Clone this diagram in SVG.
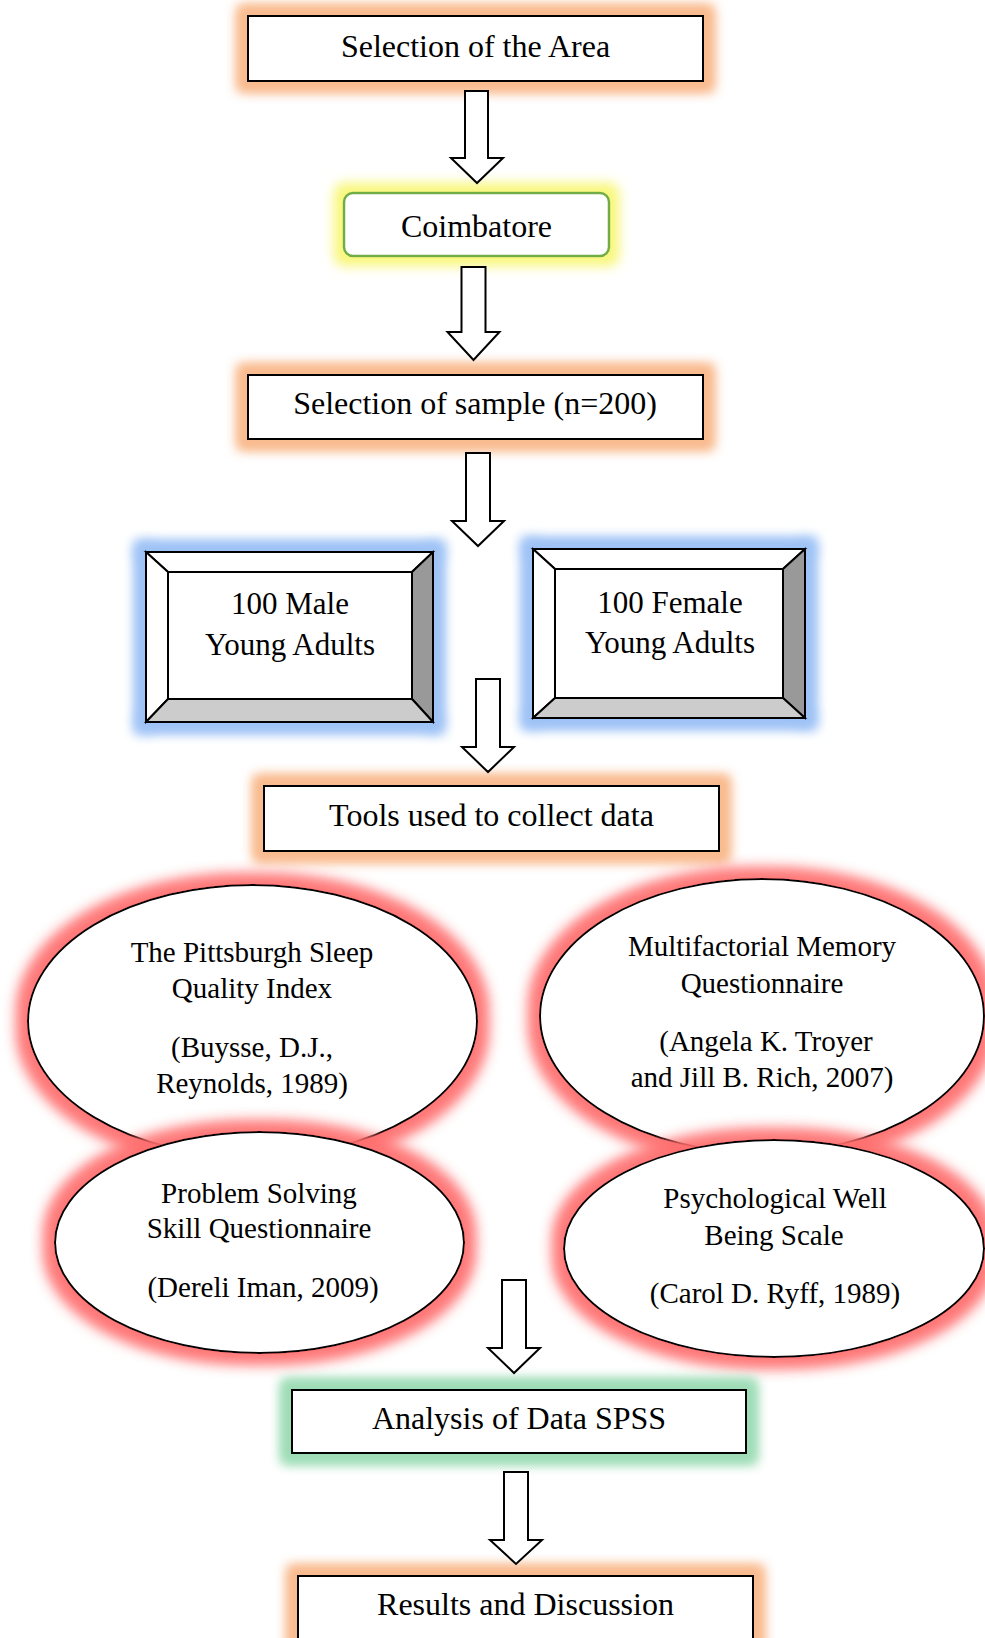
<svg xmlns="http://www.w3.org/2000/svg" width="985" height="1638" viewBox="0 0 985 1638">
<style>
text{font-family:"Liberation Serif","Times New Roman",serif;fill:#000;text-anchor:middle}
.t32{font-size:32px}
.t31{font-size:31px}
.t29{font-size:29px}
.box{fill:#fff;stroke:#000;stroke-width:2}
.ell{fill:#fff;stroke:#000;stroke-width:2}
.arrow{fill:#fff;stroke:#000;stroke-width:2;stroke-linejoin:miter}
.bev{stroke:#000;stroke-width:2;stroke-linejoin:miter}
</style>
<defs>
<filter id="gOrange" x="-20%" y="-80%" width="140%" height="260%">
<feMorphology in="SourceAlpha" operator="dilate" radius="9" result="d"/>
<feGaussianBlur in="d" stdDeviation="6" result="b"/>
<feFlood flood-color="#F9BB8F"/>
<feComposite in2="b" operator="in" result="g"/>
<feMerge><feMergeNode in="g"/><feMergeNode in="g"/><feMergeNode in="SourceGraphic"/></feMerge>
</filter>
<filter id="gYellow" x="-20%" y="-80%" width="140%" height="260%">
<feMorphology in="SourceAlpha" operator="dilate" radius="9" result="d"/>
<feGaussianBlur in="d" stdDeviation="6" result="b"/>
<feFlood flood-color="#F8F77A"/>
<feComposite in2="b" operator="in" result="g"/>
<feMerge><feMergeNode in="g"/><feMergeNode in="SourceGraphic"/></feMerge>
</filter>
<filter id="gBlue" x="-20%" y="-35%" width="140%" height="170%">
<feMorphology in="SourceAlpha" operator="dilate" radius="9" result="d"/>
<feGaussianBlur in="d" stdDeviation="6" result="b"/>
<feFlood flood-color="#9FC3F6"/>
<feComposite in2="b" operator="in" result="g"/>
<feMerge><feMergeNode in="g"/><feMergeNode in="g"/><feMergeNode in="SourceGraphic"/></feMerge>
</filter>
<filter id="gGreen" x="-20%" y="-80%" width="140%" height="260%">
<feMorphology in="SourceAlpha" operator="dilate" radius="9" result="d"/>
<feGaussianBlur in="d" stdDeviation="6" result="b"/>
<feFlood flood-color="#9EDDB6"/>
<feComposite in2="b" operator="in" result="g"/>
<feMerge><feMergeNode in="g"/><feMergeNode in="g"/><feMergeNode in="SourceGraphic"/></feMerge>
</filter>
<filter id="gRed" x="-20%" y="-30%" width="140%" height="160%">
<feMorphology in="SourceAlpha" operator="dilate" radius="9" result="d"/>
<feGaussianBlur in="d" stdDeviation="7" result="b"/>
<feFlood flood-color="#FF6E6E" flood-opacity="0.75"/>
<feComposite in2="b" operator="in" result="g"/>
<feMerge><feMergeNode in="g"/><feMergeNode in="g"/><feMergeNode in="SourceGraphic"/></feMerge>
</filter>
</defs>
<rect x="0" y="0" width="985" height="1638" fill="#fff"/>

<g id="n-area">
<rect class="box" x="248" y="16" width="455" height="65" filter="url(#gOrange)"/>
<text class="t32" x="475.5" y="57">Selection of the Area</text>
</g>

<g id="n-coimbatore">
<rect x="344" y="193" width="265" height="63" rx="9" ry="9" fill="#fff" stroke="#70AD47" stroke-width="2.5" filter="url(#gYellow)"/>
<text class="t32" x="476.5" y="237">Coimbatore</text>
</g>

<g id="n-sample">
<rect class="box" x="248" y="375" width="455" height="64" filter="url(#gOrange)"/>
<text class="t32" x="475" y="414">Selection of sample (n=200)</text>
</g>

<g id="n-male">
<g filter="url(#gBlue)">
<rect x="146" y="552" width="287" height="170" fill="#fff"/>
<polygon class="bev" fill="#fff" points="146,552 433,552 412,572 168,572"/>
<polygon class="bev" fill="#fff" points="146,552 168,572 168,699 146,722"/>
<polygon class="bev" fill="#999999" points="433,552 433,722 412,699 412,572"/>
<polygon class="bev" fill="#CCCCCC" points="146,722 168,699 412,699 433,722"/>
<rect x="168" y="572" width="244" height="127" fill="#fff" stroke="#000" stroke-width="2"/>
<rect x="146" y="552" width="287" height="170" fill="none" stroke="#000" stroke-width="2"/>
</g>
<text class="t31" x="290" y="614">100 Male</text>
<text class="t31" x="290" y="655">Young Adults</text>
</g>

<g id="n-female">
<g filter="url(#gBlue)">
<rect x="533" y="549" width="272" height="169" fill="#fff"/>
<polygon class="bev" fill="#fff" points="533,549 805,549 783,569 555,569"/>
<polygon class="bev" fill="#fff" points="533,549 555,569 555,698 533,718"/>
<polygon class="bev" fill="#999999" points="805,549 805,718 783,698 783,569"/>
<polygon class="bev" fill="#CCCCCC" points="533,718 555,698 783,698 805,718"/>
<rect x="555" y="569" width="228" height="129" fill="#fff" stroke="#000" stroke-width="2"/>
<rect x="533" y="549" width="272" height="169" fill="none" stroke="#000" stroke-width="2"/>
</g>
<text class="t31" x="670" y="613">100 Female</text>
<text class="t31" x="670" y="653">Young Adults</text>
</g>

<g id="n-tools">
<rect class="box" x="264" y="786" width="455" height="65" filter="url(#gOrange)"/>
<text class="t32" x="491.5" y="826">Tools used to collect data</text>
</g>

<g id="n-psqi">
<ellipse class="ell" cx="252.5" cy="1021" rx="224.5" ry="136" filter="url(#gRed)"/>
<text class="t29" x="252" y="962">The Pittsburgh Sleep</text>
<text class="t29" x="252" y="998">Quality Index</text>
<text class="t29" x="252" y="1057">(Buysse, D.J.,</text>
<text class="t29" x="252" y="1093">Reynolds, 1989)</text>
</g>

<g id="n-mmq">
<ellipse class="ell" cx="762" cy="1016" rx="222" ry="137" filter="url(#gRed)"/>
<text class="t29" x="762" y="956">Multifactorial Memory</text>
<text class="t29" x="762" y="993">Questionnaire</text>
<text class="t29" x="766" y="1051">(Angela K. Troyer</text>
<text class="t29" x="762" y="1087">and Jill B. Rich, 2007)</text>
</g>

<g id="n-pssq">
<ellipse class="ell" cx="259.5" cy="1242.5" rx="204.5" ry="110.5" filter="url(#gRed)"/>
<text class="t29" x="259" y="1203">Problem Solving</text>
<text class="t29" x="259" y="1238">Skill Questionnaire</text>
<text class="t29" x="263" y="1297">(Dereli Iman, 2009)</text>
</g>

<g id="n-pwb">
<ellipse class="ell" cx="774" cy="1248.5" rx="210" ry="108.5" filter="url(#gRed)"/>
<text class="t29" x="775" y="1208">Psychological Well</text>
<text class="t29" x="774" y="1245">Being Scale</text>
<text class="t29" x="775" y="1303">(Carol D. Ryff, 1989)</text>
</g>

<g id="n-analysis">
<rect class="box" x="292" y="1390" width="454" height="63" filter="url(#gGreen)"/>
<text class="t32" x="519" y="1429">Analysis of Data SPSS</text>
</g>

<g id="n-results">
<rect class="box" x="298" y="1576" width="455" height="70" filter="url(#gOrange)"/>
<text class="t32" x="525.5" y="1615">Results and Discussion</text>
</g>

<g id="connectors">
<polygon class="arrow" points="465,91 488,91 488,158 503,158 477,183 451,158 465,158"/>
<polygon class="arrow" points="461.5,267 485.5,267 485.5,332 499.5,332 473.5,360 447.5,332 461.5,332"/>
<polygon class="arrow" points="466,453 490,453 490,521 504,521 478,546 452,521 466,521"/>
<polygon class="arrow" points="476,679 500,679 500,747 514,747 488,772 462,747 476,747"/>
<polygon class="arrow" points="502,1280 526,1280 526,1348 540,1348 514,1373 488,1348 502,1348"/>
<polygon class="arrow" points="504,1472 528,1472 528,1540 542,1540 516,1564 490,1540 504,1540"/>
</g>
</svg>
